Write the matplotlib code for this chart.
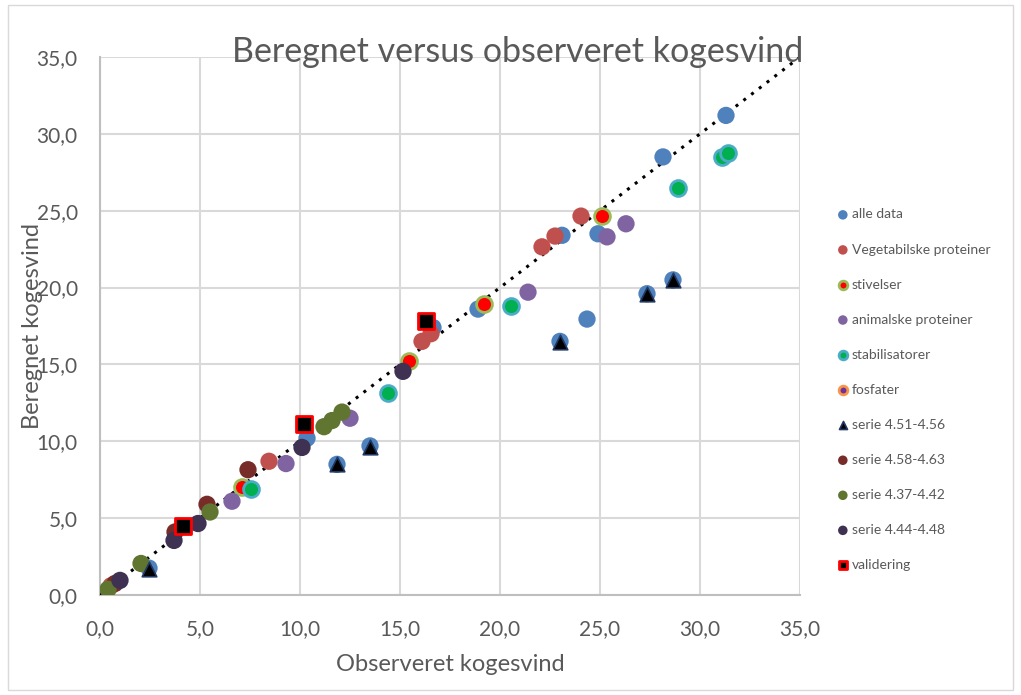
import matplotlib
matplotlib.use("Agg")
import matplotlib.pyplot as plt
from matplotlib.patches import Rectangle

plt.rcParams['font.family'] = ['Lato', 'DejaVu Sans']

# data (observeret, beregnet)
alle_x = [31.3, 28.15, 24.9, 23.1, 24.35, 18.9, 16.65, 10.35, 2.45, 11.85, 13.5, 23.0, 27.35, 28.65]
alle_y = [31.2, 28.5, 23.5, 23.4, 17.95, 18.6, 17.4, 10.2, 1.75, 8.5, 9.7, 16.5, 19.6, 20.5]

veg_x = [24.05, 22.1, 22.75, 16.55, 16.1, 8.45, 0.55]
veg_y = [24.65, 22.65, 23.35, 17.0, 16.5, 8.7, 0.6]

stiv_x = [25.1, 19.2, 15.45, 7.1]
stiv_y = [24.65, 18.9, 15.2, 7.05]

anim_x = [26.3, 25.35, 21.4, 12.5, 9.3, 6.6]
anim_y = [24.15, 23.3, 19.7, 11.5, 8.55, 6.1]

stab_x = [20.55, 14.4, 7.55, 28.9, 31.1, 31.4]
stab_y = [18.8, 13.15, 6.9, 26.45, 28.5, 28.75]

fosf_x = []
fosf_y = []

s451_x = [2.45, 11.85, 13.5, 23.0, 27.35, 28.65]
s451_y = [1.7, 8.5, 9.65, 16.45, 19.6, 20.5]

s458_x = [7.4, 5.35, 3.75, 0.75]
s458_y = [8.15, 5.9, 4.1, 0.75]

s437_x = [12.1, 11.6, 11.2, 5.5, 2.05, 0.4]
s437_y = [11.9, 11.35, 10.95, 5.4, 2.05, 0.37]

s444_x = [10.1, 4.9, 3.7, 1.0, 15.15]
s444_y = [9.6, 4.65, 3.55, 0.95, 14.55]

val_x = [10.2, 4.15, 16.3]
val_y = [11.1, 4.5, 17.8]

trend_x = [0, 35]
trend_y = [0, 35]

fig = plt.figure(figsize=(10.21, 6.95), dpi=100)
ax = fig.add_axes([100/1021, 1-595/695, 700/1021, 538/695])

ax.plot(trend_x, trend_y, linestyle=(0, (1, 2.2)), color='black', linewidth=2.2, zorder=3)

s = 155
ax.scatter(alle_x, alle_y, s=s, color='#4F81BD', edgecolors='none', label='alle data', zorder=4)
ax.scatter(veg_x, veg_y, s=s, color='#C0504D', edgecolors='none', label='Vegetabilske proteiner', zorder=4)
ax.scatter(stiv_x, stiv_y, s=130, color='#FF0000', edgecolors='#9BBB59', linewidths=2, label='stivelser', zorder=4)
ax.scatter(anim_x, anim_y, s=s, color='#8064A2', edgecolors='none', label='animalske proteiner', zorder=4)
ax.scatter(stab_x, stab_y, s=130, color='#00B050', edgecolors='#4BACC6', linewidths=2, label='stabilisatorer', zorder=4)
ax.scatter(fosf_x, fosf_y, s=130, color='#7030A0', edgecolors='#F79646', linewidths=2, label='fosfater', zorder=4)
ax.scatter(s451_x, s451_y, s=110, marker='^', color='black', edgecolors='#1F3864', linewidths=1.2,
           label='serie 4.51-4.56', zorder=5)
ax.scatter(s458_x, s458_y, s=s, color='#772C2A', edgecolors='none', label='serie 4.58-4.63', zorder=4)
ax.scatter(s437_x, s437_y, s=s, color='#5F7530', edgecolors='none', label='serie 4.37-4.42', zorder=4)
ax.scatter(s444_x, s444_y, s=s, color='#3F3151', edgecolors='none', label='serie 4.44-4.48', zorder=4)
ax.scatter(val_x, val_y, s=120, marker='s', color='black', edgecolors='#FF0000', linewidths=2,
           label='validering', zorder=6)

ax.set_xlim(0, 35)
ax.set_ylim(0, 35)
ticks = [0, 5, 10, 15, 20, 25, 30, 35]
ax.set_xticks(ticks)
ax.set_yticks(ticks)
ax.set_xticklabels([('%.1f' % t).replace('.', ',') for t in ticks])
ax.set_yticklabels([('%.1f' % t).replace('.', ',') for t in ticks])
ax.tick_params(length=0, labelsize=15, colors='#595959')
ax.tick_params(axis='x', pad=17)
ax.tick_params(axis='y', pad=16)
ax.grid(True, color='#D9D9D9', linewidth=1.5)
ax.set_axisbelow(True)
for side in ['top', 'right']:
    ax.spines[side].set_visible(False)
for side in ['left', 'bottom']:
    ax.spines[side].set_color('#BFBFBF')
    ax.spines[side].set_linewidth(1.5)

# the y label sits over the tick labels, as in the original
ax.set_xlabel('Observeret kogesvind', fontsize=17, color='#595959')
ax.set_ylabel('Beregnet kogesvind', fontsize=17, color='#595959')
ax.xaxis.set_label_coords(0.5, -0.130)
ax.yaxis.set_label_coords(-0.097, 0.50)
ax.xaxis.label.set_va('center')
ax.yaxis.label.set_va('center')
fig.text(518/1021, 1-52/695, 'Beregnet versus observeret kogesvind', fontsize=24.5,
         color='#595959', ha='center', va='center')

leg = fig.legend(loc='upper left', bbox_to_anchor=(822/1021, 1-196/695), frameon=False,
                 fontsize=10, labelspacing=1.66, handletextpad=0.05, handlelength=1.2,
                 markerscale=0.55, labelcolor='#595959')

fig.patches.append(Rectangle((8/1021, 5/695), 1005/1021, 685/695, transform=fig.transFigure,
                             fill=False, edgecolor='#D9D9D9', linewidth=1))

fig.savefig('out.png', dpi=100)
